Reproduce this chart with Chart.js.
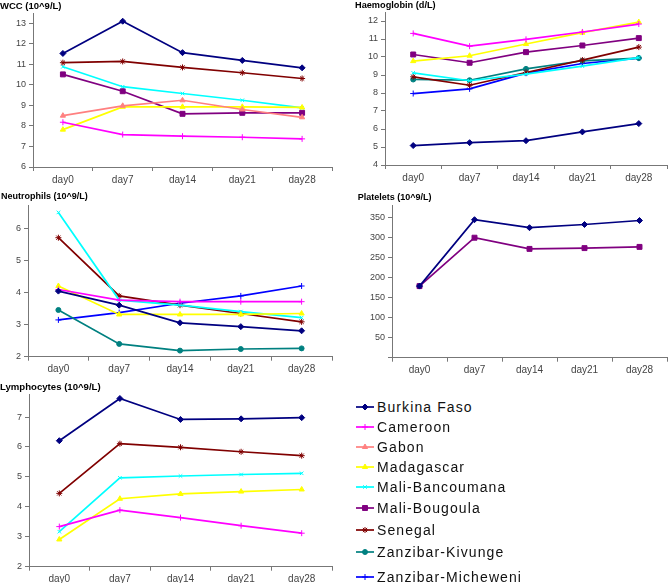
<!DOCTYPE html>
<html>
<head>
<meta charset="utf-8">
<script src="https://cdn.jsdelivr.net/npm/chart.js@4.4.1/dist/chart.umd.min.js"></script>
<style>
  body { margin: 0; background: #fff; width: 672px; height: 583px; position: relative; overflow: hidden;
         font-family: "Liberation Sans", Arial, sans-serif; }
  .panel { position: absolute; }
  .row { position: absolute; left: 355px; height: 20px; display: flex; align-items: center;
         font-size: 14px; letter-spacing: 1.1px; color: #111; white-space: nowrap; }
  .row canvas { width: 20px; height: 12px; margin-right: 2px; }
</style>
</head>
<body>
<div class="panel" style="left:0;top:0;width:337px;height:190px"><canvas id="wcc"></canvas></div>
<div class="panel" style="left:337px;top:0;width:335px;height:190px"><canvas id="hb"></canvas></div>
<div class="panel" style="left:0;top:190px;width:337px;height:190px"><canvas id="neu"></canvas></div>
<div class="panel" style="left:337px;top:190px;width:335px;height:190px"><canvas id="plt"></canvas></div>
<div class="panel" style="left:0;top:380px;width:337px;height:203px"><canvas id="lym"></canvas></div>
<div id="legend"></div>

<script>
// ================= DATA =================
const days = ["day0", "day7", "day14", "day21", "day28"];
const countries = ["Burkina Faso", "Cameroon", "Gabon", "Madagascar", "Mali-Bancoumana",
                   "Mali-Bougoula", "Senegal", "Zanzibar-Kivunge", "Zanzibar-Micheweni"];

// WCC (10^9/L)
const wccBurkina     = [11.53, 13.10, 11.57, 11.19, 10.83];
const wccCameroon    = [8.18, 7.58, 7.50, 7.45, 7.37];
const wccGabon       = [8.50, 8.98, 9.25, 8.80, 8.42];
const wccMadagascar  = [7.82, 8.93, 8.93, 8.93, 8.90];
const wccBancoumana  = [10.88, 9.91, 9.58, 9.25, 8.88];
const wccBougoula    = [10.51, 9.69, 8.59, 8.64, 8.64];
const wccSenegal     = [11.08, 11.14, 10.85, 10.59, 10.31];

// Haemoglobin (d/L)
const hbBurkina      = [5.08, 5.24, 5.35, 5.84, 6.30];
const hbCameroon     = [11.31, 10.60, 10.98, 11.39, 11.83];
const hbMadagascar   = [9.77, 10.07, 10.72, 11.35, 11.94];
const hbBancoumana   = [9.12, 8.68, 9.05, 9.49, 9.97];
const hbBougoula     = [10.14, 9.68, 10.27, 10.64, 11.05];
const hbSenegal      = [8.90, 8.43, 9.14, 9.83, 10.55];
const hbKivunge      = [8.75, 8.71, 9.34, 9.79, 9.94];
const hbMicheweni    = [7.97, 8.23, 9.10, 9.64, 9.94];

// Neutrophils (10^9/L)
const neuBurkina     = [4.05, 3.61, 3.06, 2.94, 2.81];
const neuCameroon    = [4.10, 3.77, 3.72, 3.72, 3.72];
const neuMadagascar  = [4.21, 3.32, 3.32, 3.32, 3.35];
const neuBancoumana  = [6.51, 3.77, 3.61, 3.41, 3.22];
const neuSenegal     = [5.72, 3.90, 3.61, 3.35, 3.09];
const neuKivunge     = [3.46, 2.40, 2.19, 2.24, 2.26];
const neuMicheweni   = [3.15, 3.38, 3.67, 3.90, 4.21];

// Platelets (10^9/L)
const pltBurkina     = [179, 345, 325, 333, 343];
const pltBougoula    = [179, 300, 272, 274, 277];

// Lymphocytes (10^9/L)
const lymBurkina     = [6.21, 7.62, 6.92, 6.94, 6.98];
const lymCameroon    = [3.34, 3.89, 3.64, 3.37, 3.12];
const lymMadagascar  = [2.91, 4.27, 4.43, 4.51, 4.58];
const lymBancoumana  = [3.17, 4.97, 5.03, 5.08, 5.12];
const lymSenegal     = [4.45, 6.11, 5.99, 5.84, 5.71];

// ================= STYLES =================
const seriesStyle = {
  "Burkina Faso":       { color: "#000080", point: "rectRot",  r: 3 },
  "Cameroon":           { color: "#FF00FF", point: "cross",    r: 3 },
  "Gabon":              { color: "#FF8080", point: "triangle", r: 3 },
  "Madagascar":         { color: "#FFFF00", point: "triangle", r: 3 },
  "Mali-Bancoumana":    { color: "#00FFFF", point: "crossRot", r: 2.5 },
  "Mali-Bougoula":      { color: "#800080", point: "rect",     r: 3.5 },
  "Senegal":            { color: "#800000", point: "star",     r: 3 },
  "Zanzibar-Kivunge":   { color: "#008080", point: "circle",   r: 2.5 },
  "Zanzibar-Micheweni": { color: "#0000FF", point: "cross",    r: 3 }
};

const FONT = '"Liberation Sans", Arial, sans-serif';

// draws the panel heading at a fixed spot, like the Excel sheet
const panelTitle = {
  id: "panelTitle",
  afterDraw(chart, args, opts) {
    const ctx = chart.ctx;
    ctx.save();
    ctx.font = `bold ${opts.size}px ${FONT}`;
    ctx.fillStyle = "#000";
    ctx.textBaseline = "middle";
    ctx.fillText(opts.text, opts.x, opts.y);
    ctx.restore();
  }
};

function makeDataset(name, values) {
  const s = seriesStyle[name];
  return {
    label: name,
    data: values,
    borderColor: s.color,
    backgroundColor: s.color,
    borderWidth: 1.7,
    pointStyle: s.point,
    pointRadius: s.r,
    pointBorderWidth: 1,
    pointBackgroundColor: s.color,
    pointBorderColor: s.color,
    tension: 0
  };
}

function makeChart(id, title, series, y, box) {
  new Chart(document.getElementById(id), {
    type: "line",
    data: {
      labels: days,
      datasets: series.map(([name, values]) => makeDataset(name, values))
    },
    plugins: [panelTitle],
    options: {
      responsive: true,
      maintainAspectRatio: false,
      animation: false,
      layout: { padding: box.pad },
      plugins: {
        legend: { display: false },
        tooltip: { enabled: false },
        panelTitle: title
      },
      scales: {
        x: {
          offset: true,
          grid: { display: true, offset: true, drawOnChartArea: false, drawTicks: true, tickLength: 4, color: "#777" },
          border: { display: true, color: "#777", width: 1 },
          ticks: { color: "#444", padding: 3, font: { family: FONT, size: 10 }, maxRotation: 0 },
          afterFit: s => { s.height = box.xHeight; }
        },
        y: {
          min: y.min,
          max: y.max,
          grid: { display: true, drawOnChartArea: false, drawTicks: true, tickLength: 4, color: "#777" },
          border: { display: true, color: "#777", width: 1 },
          ticks: {
            stepSize: y.step,
            includeBounds: false,
            color: "#444",
            padding: 3,
            font: { family: FONT, size: 9 },
            callback: v => (y.hideZero && v === 0) ? "" : v
          },
          afterFit: s => { s.width = box.yWidth; }
        }
      }
    }
  });
}

// ================= CHARTS =================
makeChart("wcc",
  { text: "WCC (10^9/L)", x: 0, y: 6, size: 9.5 },
  [["Burkina Faso", wccBurkina], ["Cameroon", wccCameroon], ["Gabon", wccGabon],
   ["Madagascar", wccMadagascar], ["Mali-Bancoumana", wccBancoumana],
   ["Mali-Bougoula", wccBougoula], ["Senegal", wccSenegal]],
  { min: 6, max: 13.5, step: 1 },
  { pad: { top: 13, right: 2, bottom: 5, left: 0 }, xHeight: 18, yWidth: 33 });

makeChart("hb",
  { text: "Haemoglobin (d/L)", x: 18, y: 5, size: 9.2 },
  [["Burkina Faso", hbBurkina], ["Cameroon", hbCameroon], ["Madagascar", hbMadagascar],
   ["Mali-Bancoumana", hbBancoumana], ["Mali-Bougoula", hbBougoula], ["Senegal", hbSenegal],
   ["Zanzibar-Kivunge", hbKivunge], ["Zanzibar-Micheweni", hbMicheweni]],
  { min: 4, max: 12.5, step: 1 },
  { pad: { top: 12, right: 4, bottom: 7, left: 0 }, xHeight: 18, yWidth: 48 });

makeChart("neu",
  { text: "Neutrophils (10^9/L)", x: 1, y: 6.7, size: 9 },
  [["Burkina Faso", neuBurkina], ["Cameroon", neuCameroon], ["Madagascar", neuMadagascar],
   ["Mali-Bancoumana", neuBancoumana], ["Senegal", neuSenegal],
   ["Zanzibar-Kivunge", neuKivunge], ["Zanzibar-Micheweni", neuMicheweni]],
  { min: 2, max: 6.72, step: 1 },
  { pad: { top: 15.7, right: 2, bottom: 5.3, left: 0 }, xHeight: 18, yWidth: 28 });

makeChart("plt",
  { text: "Platelets (10^9/L)", x: 20.7, y: 8, size: 9 },
  [["Burkina Faso", pltBurkina], ["Mali-Bougoula", pltBougoula]],
  { min: 0, max: 380, step: 50, hideZero: true },
  { pad: { top: 15.7, right: 2, bottom: 4.3, left: 0 }, xHeight: 18, yWidth: 55 });

makeChart("lym",
  { text: "Lymphocytes (10^9/L)", x: 0, y: 7.7, size: 9.6 },
  [["Burkina Faso", lymBurkina], ["Cameroon", lymCameroon], ["Madagascar", lymMadagascar],
   ["Mali-Bancoumana", lymBancoumana], ["Senegal", lymSenegal]],
  { min: 2, max: 7.76, step: 1 },
  { pad: { top: 14.3, right: 2, bottom: 0, left: 0 }, xHeight: 16.3, yWidth: 29 });

// ================= LEGEND =================
const legendRowsY = [407, 427, 447, 467, 487, 508, 530, 552, 577];
const legend = document.getElementById("legend");
countries.forEach((name, i) => {
  const s = seriesStyle[name];
  const row = document.createElement("div");
  row.className = "row";
  row.style.top = (legendRowsY[i] - 10) + "px";
  const c = document.createElement("canvas");
  c.width = 20; c.height = 12;
  const ctx = c.getContext("2d");
  ctx.strokeStyle = s.color;
  ctx.fillStyle = s.color;
  ctx.lineWidth = 1.7;
  ctx.beginPath(); ctx.moveTo(1, 6); ctx.lineTo(19, 6); ctx.stroke();
  if (Chart.helpers && Chart.helpers.drawPoint) {
    ctx.lineWidth = 1;
    Chart.helpers.drawPoint(ctx, { pointStyle: s.point, radius: s.r, borderWidth: 1, rotation: 0 }, 10, 6);
  }
  row.appendChild(c);
  const span = document.createElement("span");
  span.textContent = name;
  row.appendChild(span);
  legend.appendChild(row);
});
</script>
</body>
</html>
